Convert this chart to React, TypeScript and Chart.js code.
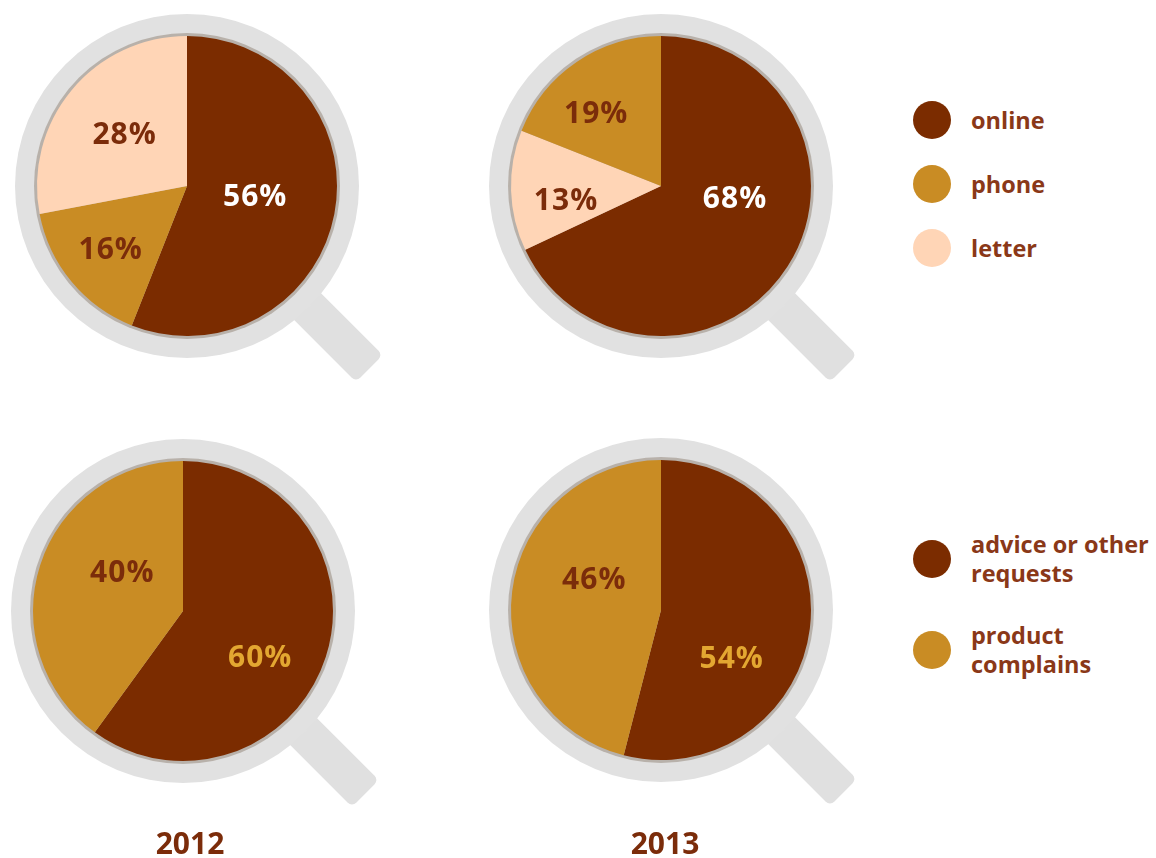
import React, { useEffect, useRef } from "react";
import { Chart, registerables } from "chart.js";

Chart.register(...registerables);

// ---- data ----
const channelCategories2012 = ["online", "phone", "letter"];
const channelValues2012 = [56, 16, 28];
const channelCategories2013 = ["online", "letter", "phone"];
const channelValues2013 = [68, 13, 19];
const requestCategories = ["advice or other requests", "product complains"];
const requestValues2012 = [60, 40];
const requestValues2013 = [54, 46];
const years = ["2012", "2013"];
const channelLegend = ["online", "phone", "letter"];
const requestLegend = [["advice or other", "requests"], ["product", "complains"]];

// ---- styles ----
const COLORS: Record<string, string> = {
  online: "#7B2C00",
  phone: "#C98C24",
  letter: "#FFD5B6",
  "advice or other requests": "#7B2C00",
  "product complains": "#C98C24",
};
const LABEL_COLORS: Record<string, string> = {
  online: "#FFFFFF",
  phone: "#7B2C0A",
  letter: "#7B2C0A",
  "advice or other requests": "#E3A731",
  "product complains": "#7B2C0A",
};
const TEXT = "#8A3818";
const FONT = "'Open Sans', 'DejaVu Sans', sans-serif";

type PieSpec = {
  cx: number;
  cy: number;
  cats: string[];
  vals: number[];
  labelR: number[];
  labelShift: number[];
};

const PIES: PieSpec[] = [
  { cx: 187, cy: 186, cats: channelCategories2012, vals: channelValues2012, labelR: [0.46, 0.66, 0.54], labelShift: [-2, 0, 0] },
  { cx: 661, cy: 186, cats: channelCategories2013, vals: channelValues2013, labelR: [0.5, 0.64, 0.65], labelShift: [-23, -6.6, -7.5] },
  { cx: 183, cy: 611, cats: requestCategories, vals: requestValues2012, labelR: [0.6, 0.48], labelShift: [13, 14.5] },
  { cx: 661, cy: 610, cats: requestCategories, vals: requestValues2013, labelR: [0.57, 0.49], labelShift: [27, 17.6] },
];

const CANVAS = 420;
const C_OFF = 200;
const PIE_R = 150;

const glassPlugin = {
  id: "glass",
  beforeDatasetsDraw(chart: any) {
    const meta = chart.getDatasetMeta(0);
    const arc = meta.data[0];
    if (!arc) return;
    const { x, y, outerRadius } = arc.getProps(["x", "y", "outerRadius"], true);
    const ctx = chart.ctx;
    ctx.save();
    // handle
    ctx.save();
    ctx.translate(x, y);
    ctx.rotate(Math.PI / 4);
    ctx.fillStyle = "#E0E0E0";
    ctx.beginPath();
    const hx = outerRadius + 5;
    const hl = 258 - hx;
    const hw = 38;
    if (ctx.roundRect) ctx.roundRect(hx, -hw / 2, hl, hw, 6);
    else ctx.rect(hx, -hw / 2, hl, hw);
    ctx.fill();
    ctx.restore();
    // ring
    ctx.fillStyle = "#E1E1E1";
    ctx.beginPath();
    ctx.arc(x, y, outerRadius + 22, 0, Math.PI * 2);
    ctx.fill();
    ctx.fillStyle = "#B8B1AA";
    ctx.beginPath();
    ctx.arc(x, y, outerRadius + 3, 0, Math.PI * 2);
    ctx.fill();
    ctx.restore();
  },
  afterDatasetsDraw(chart: any) {
    const meta = chart.getDatasetMeta(0);
    const spec: PieSpec = chart.options.plugins.glass.spec;
    const ctx = chart.ctx;
    const total = spec.vals.reduce((a, b) => a + b, 0);
    ctx.save();
    ctx.font = `bold 30px ${FONT}`;
    try {
      (ctx as any).letterSpacing = "1px";
    } catch (e) {}
    ctx.textAlign = "center";
    ctx.textBaseline = "middle";
    meta.data.forEach((el: any, i: number) => {
      const { x, y, startAngle, endAngle, outerRadius } = el.getProps(
        ["x", "y", "startAngle", "endAngle", "outerRadius"],
        true
      );
      const mid = (startAngle + endAngle) / 2 + (spec.labelShift[i] * Math.PI) / 180;
      const r = outerRadius * spec.labelR[i];
      const pct = Math.round((spec.vals[i] / total) * 100);
      ctx.fillStyle = LABEL_COLORS[spec.cats[i]];
      ctx.fillText(`${pct}%`, x + Math.cos(mid) * r, y + Math.sin(mid) * r + 1);
    });
    ctx.restore();
  },
};

function GlassPie({ spec }: { spec: PieSpec }) {
  const ref = useRef<HTMLCanvasElement>(null);
  useEffect(() => {
    if (!ref.current) return;
    const pad = C_OFF - PIE_R;
    const chart = new Chart(ref.current, {
      type: "pie",
      data: {
        labels: spec.cats,
        datasets: [
          {
            data: spec.vals,
            backgroundColor: spec.cats.map((c) => COLORS[c]),
            borderWidth: 0,
            hoverOffset: 0,
          },
        ],
      },
      options: {
        animation: false,
        responsive: false,
        events: [],
        layout: {
          padding: { left: pad, top: pad, right: CANVAS - C_OFF - PIE_R, bottom: CANVAS - C_OFF - PIE_R },
        },
        plugins: {
          legend: { display: false },
          tooltip: { enabled: false },
          glass: { spec },
        } as any,
      },
      plugins: [glassPlugin],
    });
    return () => chart.destroy();
  }, [spec]);
  return (
    <canvas
      ref={ref}
      width={CANVAS}
      height={CANVAS}
      style={{ position: "absolute", left: spec.cx - C_OFF, top: spec.cy - C_OFF, width: CANVAS, height: CANVAS }}
    />
  );
}

function LegendItem({ color, lines, top }: { color: string; lines: string[]; top: number }) {
  return (
    <div style={{ position: "absolute", left: 913, top, display: "flex", alignItems: "center" }}>
      <div style={{ width: 38, height: 38, borderRadius: "50%", background: color, flex: "none" }} />
      <div
        style={{
          marginLeft: 20,
          color: TEXT,
          fontFamily: FONT,
          fontWeight: 700,
          fontSize: 23.5,
          lineHeight: "29px",
          whiteSpace: "nowrap",
        }}
      >
        {lines.map((l, i) => (
          <div key={i}>{l}</div>
        ))}
      </div>
    </div>
  );
}

export default function App() {
  return (
    <div style={{ position: "absolute", left: 0, top: 0, width: 1156, height: 858, background: "#fff", overflow: "hidden" }}>
      {PIES.map((p, i) => (
        <GlassPie key={i} spec={p} />
      ))}
      {channelLegend.map((c, i) => (
        <LegendItem key={c} color={COLORS[c]} lines={[c]} top={101 + i * 64} />
      ))}
      {requestLegend.map((lines, i) => (
        <LegendItem key={i} color={COLORS[requestCategories[i]]} lines={lines} top={530 + i * 91} />
      ))}
      {years.map((y, i) => (
        <div
          key={y}
          style={{
            position: "absolute",
            left: i === 0 ? 90 : 565,
            width: 200,
            top: 824,
            textAlign: "center",
            fontFamily: FONT,
            fontWeight: 700,
            fontSize: 30,
            lineHeight: "38px",
            color: "#7B2C0A",
          }}
        >
          {y}
        </div>
      ))}
    </div>
  );
}
